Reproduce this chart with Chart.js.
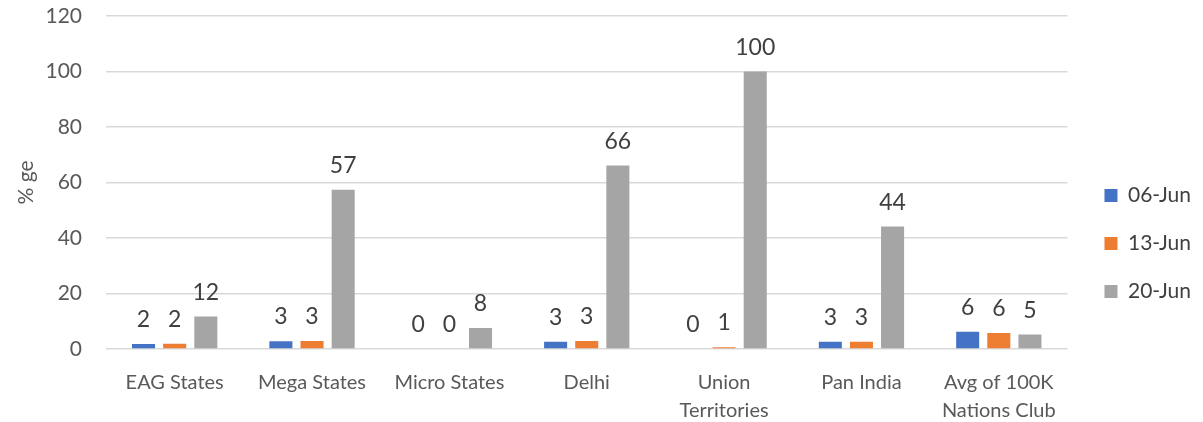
<!DOCTYPE html>
<html>
<head>
<meta charset="utf-8">
<script src="https://cdn.jsdelivr.net/npm/chart.js@4.4.1/dist/chart.umd.min.js"></script>
<style>
  html, body { margin: 0; padding: 0; background: #fff; }
  #wrap { width: 1203px; height: 422px; }
</style>
</head>
<body>
<div id="wrap"><canvas id="chart" width="1203" height="422"></canvas></div>
<script>
const categories = [
    'EAG States', 'Mega States', 'Micro States', 'Delhi',
    ['Union', 'Territories'], 'Pan India', ['Avg of 100K', 'Nations Club']
];
const seriesNames = ['06-Jun', '13-Jun', '20-Jun'];
const jun06 = [1.8, 2.8, 0, 2.6, 0, 2.6, 6.2];
const jun13 = [1.9, 2.9, 0, 2.9, 0.6, 2.6, 5.8];
const jun20 = [11.7, 57.4, 7.6, 66.1, 100, 44.1, 5.2];
const yTicks = [0, 20, 40, 60, 80, 100, 120];

const colors = ['#4472c4', '#ed7d31', '#a5a5a5'];
const fontFamily = 'Lato, "Open Sans", sans-serif';

// draws the rounded value above every bar
const barLabels = {
    id: 'barLabels',
    afterDatasetsDraw(chart) {
        const ctx = chart.ctx;
        ctx.save();
        ctx.font = '23px ' + fontFamily;
        ctx.fillStyle = '#404040';
        ctx.textAlign = 'center';
        ctx.textBaseline = 'alphabetic';
        chart.data.datasets.forEach((ds, i) => {
            chart.getDatasetMeta(i).data.forEach((bar, j) => {
                ctx.fillText(Math.round(ds.data[j]), bar.x, bar.y - 17);
            });
        });
        ctx.restore();
    }
};

// nudge the legend a little to the right, away from the plot
const legendShift = {
    id: 'legendShift',
    afterLayout(chart) {
        chart.legend.left += 10;
        chart.legend.right += 10;
    }
};

new Chart(document.getElementById('chart').getContext('2d'), {
    type: 'bar',
    data: {
        labels: categories,
        datasets: [jun06, jun13, jun20].map((d, i) => ({
            label: seriesNames[i],
            data: d,
            backgroundColor: colors[i],
            categoryPercentage: 0.68,
            barPercentage: 0.74
        }))
    },
    options: {
        responsive: false,
        animation: false,
        layout: { padding: { top: 0, right: 12, left: 0, bottom: 0 } },
        plugins: {
            legend: {
                position: 'right',
                title: { display: true, text: '', padding: 23, font: { size: 16 } },
                labels: {
                    boxWidth: 13,
                    boxHeight: 13,
                    padding: 27,
                    color: '#404040',
                    font: { size: 21, family: fontFamily }
                }
            },
            tooltip: { enabled: false }
        },
        scales: {
            x: {
                grid: { display: false, drawTicks: false },
                border: { display: false },
                afterFit: axis => { axis.height = 73; },
                ticks: {
                    color: '#595959',
                    font: { size: 20, family: fontFamily, lineHeight: 1.4 },
                    maxRotation: 0,
                    padding: 20
                }
            },
            y: {
                min: 0,
                max: 120,
                afterBuildTicks: axis => { axis.ticks = yTicks.map(v => ({ value: v })); },
                afterFit: axis => { axis.width = 106; axis.paddingTop = 16; },
                grid: { color: '#d9d9d9', lineWidth: 1.5, drawTicks: false },
                border: { display: false },
                ticks: {
                    color: '#595959',
                    font: { size: 21, family: fontFamily },
                    padding: 24
                },
                title: {
                    display: true,
                    text: '% ge',
                    color: '#595959',
                    padding: { top: 14 },
                    font: { size: 21, family: fontFamily }
                }
            }
        }
    },
    plugins: [barLabels, legendShift]
});
</script>
</body>
</html>
